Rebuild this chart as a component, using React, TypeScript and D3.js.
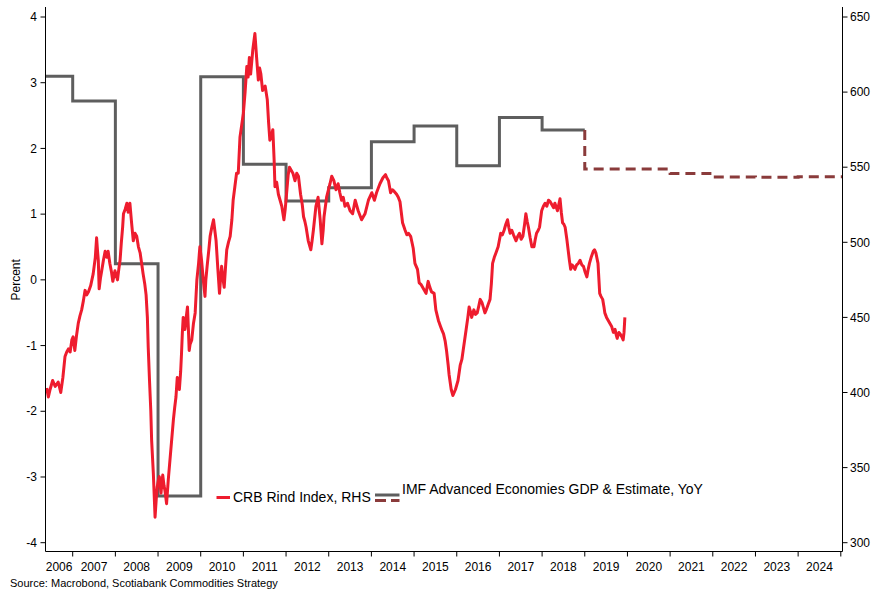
import React from "react";
import * as d3 from "d3";

// ---------- DATA ----------
const yearTicks = [2006, 2007, 2008, 2009, 2010, 2011, 2012, 2013, 2014, 2015, 2016, 2017, 2018, 2019, 2020, 2021, 2022, 2023, 2024];
const leftTicks = [-4, -3, -2, -1, 0, 1, 2, 3, 4];
const rightTicks = [300, 350, 400, 450, 500, 550, 600, 650];

// IMF Advanced Economies GDP, YoY (%), annual
const imfYears = [2006, 2007, 2008, 2009, 2010, 2011, 2012, 2013, 2014, 2015, 2016, 2017, 2018];
const imfActual = [3.1, 2.72, 0.245, -3.29, 3.09, 1.76, 1.2, 1.4, 2.1, 2.34, 1.735, 2.47, 2.28];
// IMF estimates
const estYears = [2019, 2020, 2021, 2022, 2023, 2024];
const imfEstimate = [1.685, 1.685, 1.62, 1.565, 1.56, 1.57];

// CRB Raw Industrials index (RHS), decimal years
const crbDates = [
  2006.39, 2006.43, 2006.47, 2006.53, 2006.59, 2006.66, 2006.72, 2006.77, 2006.82, 2006.86, 2006.9, 2006.94, 2006.98,
  2007.01, 2007.05, 2007.09, 2007.13, 2007.17, 2007.21, 2007.25, 2007.29, 2007.33, 2007.37, 2007.42, 2007.48, 2007.53,
  2007.56, 2007.58, 2007.6, 2007.62, 2007.65, 2007.68, 2007.72, 2007.76, 2007.8, 2007.83, 2007.87, 2007.91, 2007.94, 2007.99,
  2008.02, 2008.05, 2008.08, 2008.11, 2008.14, 2008.17, 2008.19, 2008.23, 2008.27, 2008.3, 2008.34, 2008.38, 2008.42,
  2008.46, 2008.5, 2008.54, 2008.58, 2008.62, 2008.65, 2008.69, 2008.72, 2008.75, 2008.77, 2008.8, 2008.83, 2008.85,
  2008.89, 2008.93, 2008.96, 2008.98, 2009.01, 2009.03, 2009.05, 2009.07, 2009.09, 2009.11, 2009.14, 2009.16, 2009.2,
  2009.24, 2009.27, 2009.3, 2009.33, 2009.36, 2009.39, 2009.42, 2009.45, 2009.48, 2009.5, 2009.53, 2009.55, 2009.57,
  2009.59, 2009.61, 2009.63, 2009.66, 2009.69, 2009.71, 2009.73, 2009.75, 2009.79, 2009.83, 2009.87, 2009.91, 2009.95,
  2009.98, 2010.02, 2010.06, 2010.1, 2010.12, 2010.15, 2010.19, 2010.22, 2010.26, 2010.3, 2010.33, 2010.36, 2010.4,
  2010.44, 2010.47, 2010.49, 2010.52, 2010.55, 2010.58, 2010.61, 2010.65, 2010.69, 2010.73, 2010.76, 2010.8, 2010.84,
  2010.88, 2010.92, 2010.96, 2011.0, 2011.04, 2011.08, 2011.11, 2011.14, 2011.17, 2011.22, 2011.27, 2011.31, 2011.35,
  2011.38, 2011.41, 2011.45, 2011.51, 2011.56, 2011.59, 2011.62, 2011.65, 2011.69, 2011.72, 2011.74, 2011.78, 2011.82,
  2011.86, 2011.9, 2011.95, 2011.98, 2012.02, 2012.05, 2012.08, 2012.12, 2012.16, 2012.21, 2012.25, 2012.29, 2012.34,
  2012.38, 2012.41, 2012.44, 2012.47, 2012.52, 2012.55, 2012.58, 2012.61, 2012.64, 2012.67, 2012.7, 2012.75, 2012.8,
  2012.84, 2012.87, 2012.89, 2012.95, 2013.03, 2013.07, 2013.12, 2013.17, 2013.22, 2013.26, 2013.3, 2013.34, 2013.38,
  2013.44, 2013.5, 2013.56, 2013.62, 2013.66, 2013.69, 2013.73, 2013.77, 2013.81, 2013.85, 2013.93, 2014.01, 2014.07,
  2014.12, 2014.16, 2014.2, 2014.27, 2014.33, 2014.36, 2014.4, 2014.45, 2014.49, 2014.53, 2014.59, 2014.63, 2014.67,
  2014.7, 2014.73, 2014.79, 2014.83, 2014.87, 2014.92, 2014.95, 2014.98, 2015.02, 2015.08, 2015.12, 2015.16, 2015.2,
  2015.24, 2015.28, 2015.33, 2015.37, 2015.41, 2015.47, 2015.51, 2015.57, 2015.62, 2015.66, 2015.69, 2015.73, 2015.76,
  2015.8, 2015.82, 2015.87, 2015.91, 2015.94, 2015.97, 2016.03, 2016.08, 2016.12, 2016.15, 2016.19, 2016.22, 2016.26,
  2016.29, 2016.32, 2016.35, 2016.4, 2016.44, 2016.48, 2016.52, 2016.55, 2016.59, 2016.62, 2016.66, 2016.69, 2016.74,
  2016.78, 2016.81, 2016.84, 2016.88, 2016.92, 2016.97, 2017.03, 2017.07, 2017.11, 2017.15, 2017.19, 2017.22, 2017.25,
  2017.29, 2017.33, 2017.36, 2017.39, 2017.43, 2017.47, 2017.51, 2017.55, 2017.59, 2017.62, 2017.65, 2017.68, 2017.72,
  2017.76, 2017.81, 2017.84, 2017.87, 2017.91, 2017.94, 2017.99, 2018.03, 2018.07, 2018.11, 2018.15, 2018.19, 2018.23,
  2018.27, 2018.3, 2018.36, 2018.39, 2018.42, 2018.45, 2018.48, 2018.51, 2018.54, 2018.58, 2018.61, 2018.64, 2018.67,
  2018.7, 2018.73, 2018.77, 2018.81, 2018.85, 2018.89, 2018.93, 2018.97, 2019.01, 2019.05, 2019.08, 2019.11, 2019.15,
  2019.2, 2019.23, 2019.26, 2019.31, 2019.35, 2019.38, 2019.42, 2019.45, 2019.47, 2019.51, 2019.55, 2019.59, 2019.63,
  2019.67, 2019.71, 2019.74, 2019.76, 2019.8, 2019.83, 2019.87, 2019.9, 2019.92, 2019.94,
];
const crbValues = [
  403, 397, 402, 408, 404, 407, 400, 410, 424, 427, 429, 427, 435,
  437, 428, 438, 446, 451, 455, 461, 468, 465, 467, 471, 479, 490,
  503, 495, 488, 469, 476, 481, 488, 494, 490, 494, 486, 480, 474, 481,
  478, 475, 482, 488, 500, 510, 519, 522, 526, 520, 526, 513, 501,
  506, 504, 497, 493, 485, 479, 472, 465, 450, 430, 408, 388, 368,
  346, 317, 330, 337, 342, 344, 338, 333, 340, 345, 338, 335, 326,
  342, 352, 362, 372, 382, 390, 397, 410, 405, 402, 414, 426, 440,
  450, 446, 442, 450, 457, 443, 428, 432, 435, 446, 453, 475, 486,
  497, 488, 475, 464, 475, 484, 495, 504, 510, 515, 508, 501, 483,
  466, 478, 484, 476, 470, 483, 495, 500, 504, 515, 528, 537, 546,
  546, 570, 578, 586, 600, 617, 610, 623, 612, 628, 639, 623, 608,
  616, 612, 601, 604, 595, 580, 568, 570, 575, 555, 537, 540, 532,
  528, 524, 515, 522, 535, 545, 550, 548, 546, 541, 546, 544, 532,
  525, 517, 514, 510, 501, 498, 495, 501, 508, 516, 524, 530, 515,
  499, 508, 517, 530, 539, 544, 541, 535, 539, 533, 528, 530, 524,
  526, 521, 519, 528, 524, 521, 518, 515, 517, 519, 528, 533, 528,
  533, 536, 539, 543, 545, 543, 541, 533, 535, 534, 532, 530, 527,
  520, 513, 508, 505, 506, 504, 500, 496, 486, 482, 473, 472, 470,
  468, 466, 474, 470, 467, 466, 455, 448, 444, 441, 439, 434, 428,
  418, 412, 402, 398, 400, 402, 408, 418, 422, 428, 436, 442, 450,
  457, 454, 450, 455, 452, 453, 458, 462, 460, 457, 453, 455, 459,
  462, 472, 486, 490, 493, 497, 506, 505, 508, 512, 515, 510, 506,
  508, 505, 503, 501, 504, 506, 502, 504, 512, 519, 514, 510, 503,
  497, 497, 502, 506, 508, 510, 521, 524, 526, 524, 528, 527, 525,
  523, 526, 521, 525, 529, 520, 513, 512, 510, 502, 495, 488, 482,
  485, 484, 482, 485, 486, 488, 485, 484, 480, 477, 482, 486, 490,
  494, 495, 493, 486, 466, 464, 462, 457, 453, 450, 448, 446, 444,
  440, 442, 438, 436, 440, 439, 437, 435, 440, 450,
];

const legendCrb = "CRB Rind Index, RHS";
const legendImf = "IMF Advanced Economies GDP & Estimate, YoY";
const sourceText = "Source: Macrobond, Scotiabank Commodities Strategy";

// ---------- LAYOUT ----------
const W = 875;
const H = 599;
const plotLeft = 45.5;
const plotRight = 842.5;
const plotTop = 7;
const plotBottom = 551.5;
const FONT = "'Liberation Sans', Arial, Helvetica, sans-serif";

const RED = "#ee1c2e";
const GRAY = "#5e5e5e";
const BROWN = "#8a3b3b";

export default function App() {
  const x = d3.scaleLinear().domain([2007, 2025]).range([72.7, 840.8]);
  const yL = d3.scaleLinear().domain([-4, 4]).range([542.7, 17]);
  const yR = d3.scaleLinear().domain([300, 650]).range([542.7, 17]);
  const xEnd = x.invert(plotRight);

  const stepLine = d3
    .line<[number, number]>()
    .x((d) => x(d[0]))
    .y((d) => yL(d[1]))
    .curve(d3.curveStepAfter);

  const actualPts: [number, number][] = imfYears.map((yr, i) => [yr, imfActual[i]]);
  actualPts.push([estYears[0], imfActual[imfActual.length - 1]]);

  const estPts: [number, number][] = [[estYears[0], imfActual[imfActual.length - 1]]];
  estYears.forEach((yr, i) => estPts.push([yr, imfEstimate[i]]));
  estPts.push([xEnd, imfEstimate[imfEstimate.length - 1]]);

  const crbLine = d3
    .line<number>()
    .x((_, i) => x(crbDates[i]))
    .y((d) => yR(d))
    .curve(d3.curveLinear);

  const yearLabelPos = (yr: number) => {
    const a = Math.max(x(yr), plotLeft);
    const b = Math.min(x(yr + 1), plotRight);
    return (a + b) / 2;
  };
  const xTickYears = d3.range(2007, 2026);

  return (
    <svg
      width={W}
      height={H}
      style={{ position: "absolute", left: 0, top: 0, background: "#fff" }}
      fontFamily={FONT}
    >
      <defs>
        <clipPath id="plotClip">
          <rect x={plotLeft} y={plotTop} width={plotRight - plotLeft} height={plotBottom - plotTop} />
        </clipPath>
      </defs>
      <rect x={0} y={0} width={W} height={H} fill="#fff" />

      <g clipPath="url(#plotClip)">
        <path d={stepLine(actualPts) || ""} fill="none" stroke={GRAY} strokeWidth={3} strokeLinejoin="miter" />
        <path
          d={stepLine(estPts) || ""}
          fill="none"
          stroke={BROWN}
          strokeWidth={3}
          strokeDasharray="10,6"
        />
        <path d={crbLine(crbValues) || ""} fill="none" stroke={RED} strokeWidth={3} strokeLinejoin="round" />
      </g>

      {/* Left axis */}
      <line x1={plotLeft} x2={plotLeft} y1={plotTop} y2={plotBottom} stroke="#000" strokeWidth={1} />
      {leftTicks.map((t) => (
        <g key={"l" + t}>
          <line x1={plotLeft - 5} x2={plotLeft} y1={yL(t)} y2={yL(t)} stroke="#000" />
          <text x={37} y={yL(t)} dy="0.35em" textAnchor="end" fontSize={12} fill="#000">
            {t}
          </text>
        </g>
      ))}
      <text
        transform={`translate(20,${yL(0)}) rotate(-90)`}
        textAnchor="middle"
        fontSize={12}
        fill="#000"
      >
        Percent
      </text>

      {/* Right axis */}
      <line x1={plotRight} x2={plotRight} y1={plotTop} y2={plotBottom} stroke="#000" strokeWidth={1} />
      {rightTicks.map((t) => (
        <g key={"r" + t}>
          <line x1={plotRight} x2={plotRight + 5} y1={yR(t)} y2={yR(t)} stroke="#000" />
          <text x={850} y={yR(t)} dy="0.35em" textAnchor="start" fontSize={12} fill="#000">
            {t}
          </text>
        </g>
      ))}

      {/* Bottom axis */}
      <line x1={plotLeft} x2={plotRight} y1={plotBottom} y2={plotBottom} stroke="#000" strokeWidth={1} />
      {xTickYears.map((t) => (
        <line key={"xt" + t} x1={x(t)} x2={x(t)} y1={plotBottom} y2={plotBottom + 5} stroke="#000" />
      ))}
      {yearTicks.map((yr) => (
        <text key={"xl" + yr} x={yearLabelPos(yr)} y={571} textAnchor="middle" fontSize={12} fill="#000">
          {yr}
        </text>
      ))}

      {/* Legend */}
      <line x1={216.5} x2={230} y1={497.5} y2={497.5} stroke={RED} strokeWidth={3} />
      <text x={233} y={502} fontSize={14} fill="#000">
        {legendCrb}
      </text>
      <line x1={375} x2={399.5} y1={495} y2={495} stroke={GRAY} strokeWidth={3} />
      <line x1={375} x2={399.5} y1={500.5} y2={500.5} stroke={BROWN} strokeWidth={3} strokeDasharray="11,5" />
      <text x={402} y={493.5} fontSize={14} fill="#000">
        {legendImf}
      </text>

      {/* Source */}
      <text x={10} y={587} fontSize={11} fill="#000">
        {sourceText}
      </text>
    </svg>
  );
}
